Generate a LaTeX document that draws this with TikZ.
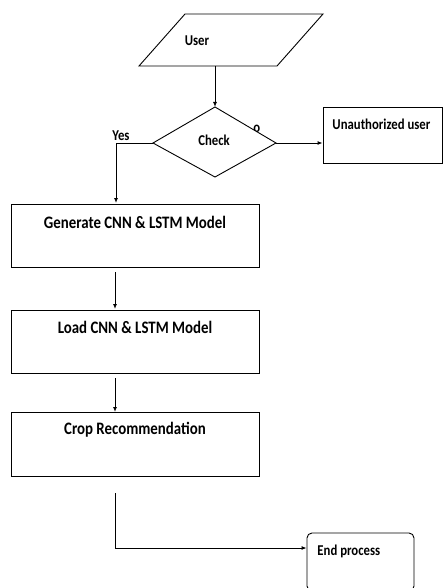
\documentclass[tikz,border=0pt]{standalone}
\usepackage{fontspec}
\setmainfont{Carlito}[FakeStretch=0.85]
\usetikzlibrary{arrows.meta,shapes.geometric}
\begin{document}
\begin{tikzpicture}[x=1pt,y=-1pt,
  line width=0.9pt,
  arr/.style={-{Latex[length=5pt,width=4pt]}},
  lbl/.style={font=\fontsize{15}{17}\selectfont\bfseries, inner sep=0pt},
  blbl/.style={font=\fontsize{17.5}{20}\selectfont\bfseries, inner sep=0pt},
  boxs/.style={draw, inner sep=0pt}]
\useasboundingbox (0,0) rectangle (442,588);
% User parallelogram
\coordinate (u1) at (185,14);
\coordinate (u2) at (323,14);
\coordinate (u3) at (277,66);
\coordinate (u4) at (139,66);
\draw (u1) -- (u2) -- (u3) -- (u4) -- cycle;
\node[lbl] (user) at (197,41) {User};
\coordinate (ubot) at (215,66);
% Diamond
\coordinate (dt) at (215,107);
\coordinate (dr) at (276,143);
\coordinate (db) at (215,177);
\coordinate (dl) at (153,143);
\node[lbl, anchor=west] (no) at (253,129) {o};
\draw[fill=white] (dt) -- (dr) -- (db) -- (dl) -- cycle;
\node[lbl] (check) at (214,140) {Check};
\node[lbl] (yes) at (121,136) {Yes};
% Unauthorized
\node[boxs, minimum width=119pt, minimum height=56pt] (unauth) at (382.5,135) {};
\node[lbl, anchor=west] (unauthtxt) at (332,124) {Unauthorized user};
% Boxes
\node[boxs, minimum width=248pt, minimum height=63pt] (gen) at (135,235.5) {};
\node[blbl] (gentxt) at (135,222) {Generate CNN \& LSTM Model};
\node[boxs, minimum width=248pt, minimum height=63pt] (load) at (135,341.5) {};
\node[blbl] (loadtxt) at (135,327) {Load CNN \& LSTM Model};
\node[boxs, minimum width=248pt, minimum height=64pt] (crop) at (135,444) {};
\node[blbl] (croptxt) at (135,430) {Crop Recommendation};
% End
\node[draw, rounded corners=5pt, minimum width=107pt, minimum height=58pt, inner sep=0pt] (endp) at (360.5,562) {};
\node[lbl, anchor=west] (endtxt) at (317,551) {End process};
% connectors
\draw[arr] (ubot) -- (dt);
\draw[arr] (dr) -- (unauth.west |- dr);
\draw[arr] (dl) -| (116,203);
\coordinate (g2) at (115,272);
\draw[arr] (g2) -- (115,309);
\coordinate (l2) at (115,378);
\draw[arr] (l2) -- (115,412);
\coordinate (c2) at (115,493);
\draw[arr] (c2) |- (endp.west |- 0,548);
\end{tikzpicture}
\end{document}
